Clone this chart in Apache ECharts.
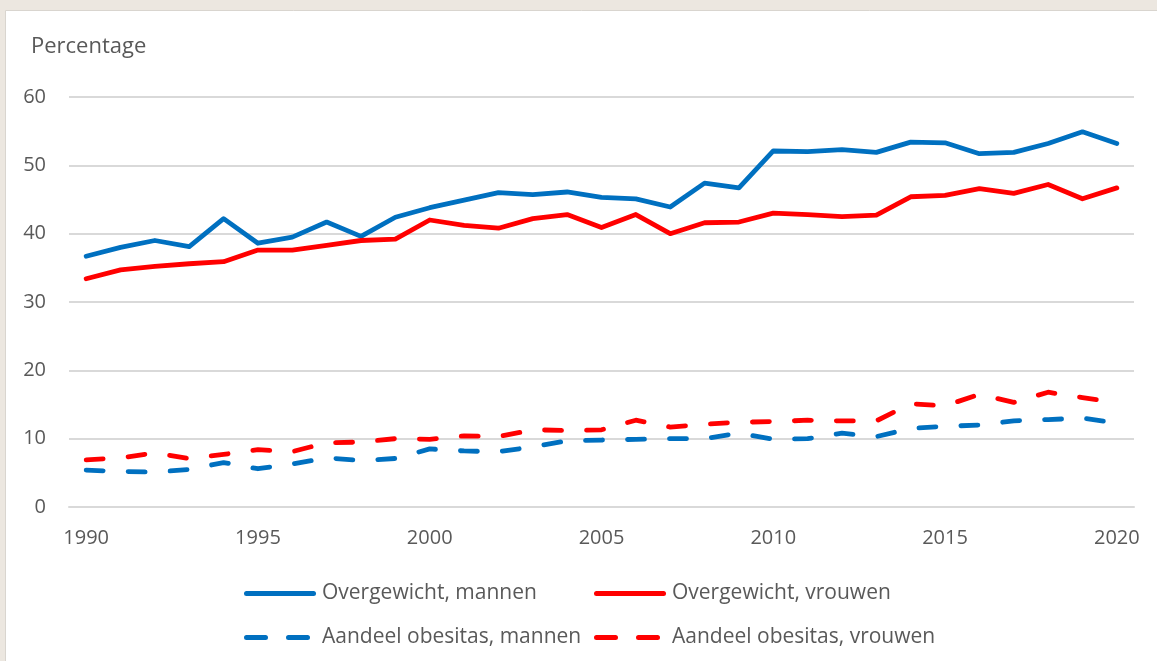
<!DOCTYPE html>
<html>
<head>
<meta charset="utf-8">
<script src="https://cdn.jsdelivr.net/npm/echarts@6/dist/echarts.min.js"></script>
<style>
html,body{margin:0;padding:0;background:#ECE7E0;}
#chart{width:1157px;height:661px;}
</style>
</head>
<body>
<div id="chart"></div>
<script>
const years = ['1990','1991','1992','1993','1994','1995','1996','1997','1998','1999','2000','2001','2002','2003','2004','2005','2006','2007','2008','2009','2010','2011','2012','2013','2014','2015','2016','2017','2018','2019','2020'];
const overgewichtMannen = [36.7,38.0,39.0,38.1,42.2,38.6,39.5,41.7,39.6,42.4,43.8,44.9,46.0,45.7,46.1,45.3,45.1,43.9,47.4,46.7,52.1,52.0,52.3,51.9,53.4,53.3,51.7,51.9,53.2,54.9,53.2];
const overgewichtVrouwen = [33.4,34.7,35.2,35.6,35.9,37.6,37.6,38.3,39.0,39.2,42.0,41.2,40.8,42.2,42.8,40.9,42.8,40.0,41.6,41.7,43.0,42.8,42.5,42.7,45.4,45.6,46.6,45.9,47.2,45.1,46.7];
const obesitasMannen = [5.4,5.2,5.1,5.5,6.5,5.6,6.3,7.2,6.8,7.1,8.5,8.2,8.1,8.8,9.7,9.8,9.9,10.0,10.0,10.8,9.9,10.0,10.8,10.3,11.5,11.8,12.0,12.6,12.8,13.0,12.3];
const obesitasVrouwen = [6.9,7.2,7.9,7.1,7.7,8.4,8.1,9.4,9.5,10.0,9.9,10.4,10.3,11.3,11.2,11.3,12.7,11.7,12.1,12.4,12.5,12.7,12.6,12.6,15.1,14.8,16.5,15.3,16.8,16.0,15.3];
const seriesNames = ['Overgewicht, mannen','Overgewicht, vrouwen','Aandeel obesitas, mannen','Aandeel obesitas, vrouwen'];
const yTicks = [0,10,20,30,40,50,60];

const BLUE = '#0070C0', RED = '#FF0000', TXT = '#595959';
const FONT = 'Open Sans';
const dash = [17,25];

function capsule(x0, x1){
  const a = x0 + 2.5, b = x1 - 2.5;
  return 'M' + a + ',0H' + b + 'A2.5,2.5 0 0 1 ' + b + ',5H' + a + 'A2.5,2.5 0 0 1 ' + a + ',0Z';
}
const solidIcon = 'path://' + capsule(0, 72);
const dashIcon = 'path://' + capsule(0, 24) + capsule(42, 66) + 'M71.99,2.5H72V2.51H71.99Z';

function lineSeries(name, data, color, dashed){
  return {
    name, type:'line', data, symbol:'none', smooth:false,
    lineStyle:{color, width:4.8, type: dashed ? dash : 'solid', cap:'round', join:'round'},
    itemStyle:{color},
    z: dashed ? 2 : 3
  };
}
function legendItem(name, color, dashed){
  return {name, icon: dashed ? dashIcon : solidIcon, itemStyle:{color, borderWidth:0}};
}
function legendBlock(left, items){
  return {left, top:583, orient:'vertical', padding:0, itemGap:23, itemWidth:72, itemHeight:5,
    symbolKeepAspect:false,
    textStyle:{color:TXT, fontFamily:FONT, fontSize:21, padding:[0,0,0,1]},
    data:items};
}

const chart = echarts.init(document.getElementById('chart'), null, {renderer:'canvas'});
chart.setOption({
  animation:false,
  backgroundColor:'#ECE7E0',
  graphic:[{type:'rect', shape:{x:5.5,y:10.5,width:1152,height:651}, style:{fill:'#ffffff', stroke:'#d9d5cf', lineWidth:1}, z:-10, silent:true}],
  title:{text:'Percentage', left:31, top:36, padding:0, textStyle:{fontFamily:FONT, fontSize:22, fontWeight:'normal', color:TXT}},
  grid:{left:69, right:23, top:97, bottom:154, containLabel:false},
  xAxis:{
    type:'category', data:years, boundaryGap:true,
    axisLine:{show:true, lineStyle:{color:'#D9D9D9', width:2}},
    axisTick:{show:false},
    axisLabel:{interval:4, color:TXT, fontFamily:FONT, fontSize:20, margin:21}
  },
  yAxis:{
    type:'value', min:yTicks[0], max:yTicks[yTicks.length-1], interval:10,
    axisLine:{show:false}, axisTick:{show:false},
    axisLabel:{color:TXT, fontFamily:FONT, fontSize:20, margin:23},
    splitLine:{lineStyle:{color:'#D9D9D9', width:2}}
  },
  legend:[
    legendBlock(244, [legendItem(seriesNames[0],BLUE,false), legendItem(seriesNames[2],BLUE,true)]),
    legendBlock(594, [legendItem(seriesNames[1],RED,false), legendItem(seriesNames[3],RED,true)])
  ],
  series:[
    lineSeries(seriesNames[0], overgewichtMannen, BLUE, false),
    lineSeries(seriesNames[1], overgewichtVrouwen, RED, false),
    lineSeries(seriesNames[2], obesitasMannen, BLUE, true),
    lineSeries(seriesNames[3], obesitasVrouwen, RED, true)
  ]
});
</script>
</body>
</html>
